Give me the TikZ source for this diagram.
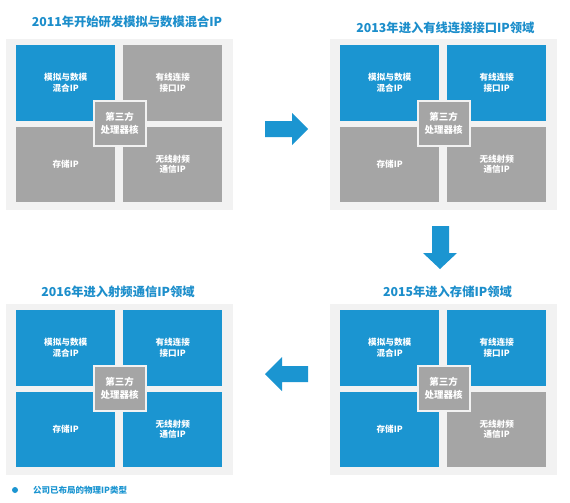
\documentclass[tikz,border=0pt]{standalone}
\usepackage{fontspec}
\setmainfont{Noto Sans CJK SC}
\definecolor{ipblue}{HTML}{1B95D1}
\definecolor{ipgray}{HTML}{A5A5A5}
\definecolor{ipbg}{HTML}{F2F2F2}
\definecolor{titleblue}{HTML}{1C8ECB}
\tikzset{
  bgbox/.style={fill=ipbg, draw=none, inner sep=0pt, minimum width=227, minimum height=171, anchor=north west},
  quad/.style={draw=none, inner sep=0pt, minimum width=99, minimum height=75.5, anchor=north west, text=white, align=center, font=\fontsize{8.6}{10.5}\selectfont\bfseries},
  core/.style={fill=ipgray, draw=ipbg, line width=2pt, inner sep=0pt, minimum width=52, minimum height=45, text=white, align=center, font=\fontsize{9.5}{13.5}\selectfont\bfseries},
  ptitle/.style={text=titleblue, font=\fontsize{12.3}{15}\selectfont\bfseries, inner sep=0pt},
  blockarrow/.style={fill=ipblue, draw=none}
}
\newcommand\ippanel[7]{%
  \node[bgbox] (#1bg) at (#2,#3) {};
  \node[quad, fill=#4] (#1tl) at (#2+10,#3+6) {模拟与数模\\混合IP};
  \node[quad, fill=#5] (#1tr) at (#2+117,#3+6) {有线连接\\接口IP};
  \node[quad, fill=#6] (#1bl) at (#2+10,#3+87.5) {存储IP};
  \node[quad, fill=#7] (#1br) at (#2+117,#3+87.5) {无线射频\\通信IP};
  \node[core] (#1core) at (#2+113.5,#3+84.5) {第三方\\处理器核};
}
\begin{document}
\begin{tikzpicture}[x=1pt,y=-1pt]
\useasboundingbox (0,0) rectangle (570,503);
\fill[white] (0,0) rectangle (570,503);
\ippanel{a}{6}{39}{ipblue}{ipgray}{ipgray}{ipgray}
\ippanel{b}{330}{39}{ipblue}{ipblue}{ipgray}{ipgray}
\ippanel{c}{6}{304}{ipblue}{ipblue}{ipblue}{ipblue}
\ippanel{d}{330}{304}{ipblue}{ipblue}{ipblue}{ipgray}
\node[ptitle] (ta) at (127,22) {2011年开始研发模拟与数模混合IP};
\node[ptitle] (tb) at (445.5,28) {2013年进入有线连接接口IP领域};
\node[ptitle] (tc) at (118,292) {2016年进入射频通信IP领域};
\node[ptitle] (td) at (447.5,292) {2015年进入存储IP领域};
% block arrows
\fill[blockarrow] (265,121) -- (292,121) -- (292,113) -- (308,129) -- (292,145) -- (292,137) -- (265,137) -- cycle;
\fill[blockarrow] (432,226) -- (449,226) -- (449,253) -- (457,253) -- (440,269) -- (423,253) -- (432,253) -- cycle;
\fill[blockarrow] (308,366) -- (282,366) -- (282,357) -- (265,374) -- (282,391) -- (282,382) -- (308,382) -- cycle;
% legend
\fill[ipblue] (15,490) circle[radius=3];
\node[anchor=west, inner sep=0pt, text=ipblue, font=\fontsize{8.5}{10}\selectfont\bfseries] (legend) at (33,490) {公司已布局的物理IP类型};
\end{tikzpicture}
\end{document}
